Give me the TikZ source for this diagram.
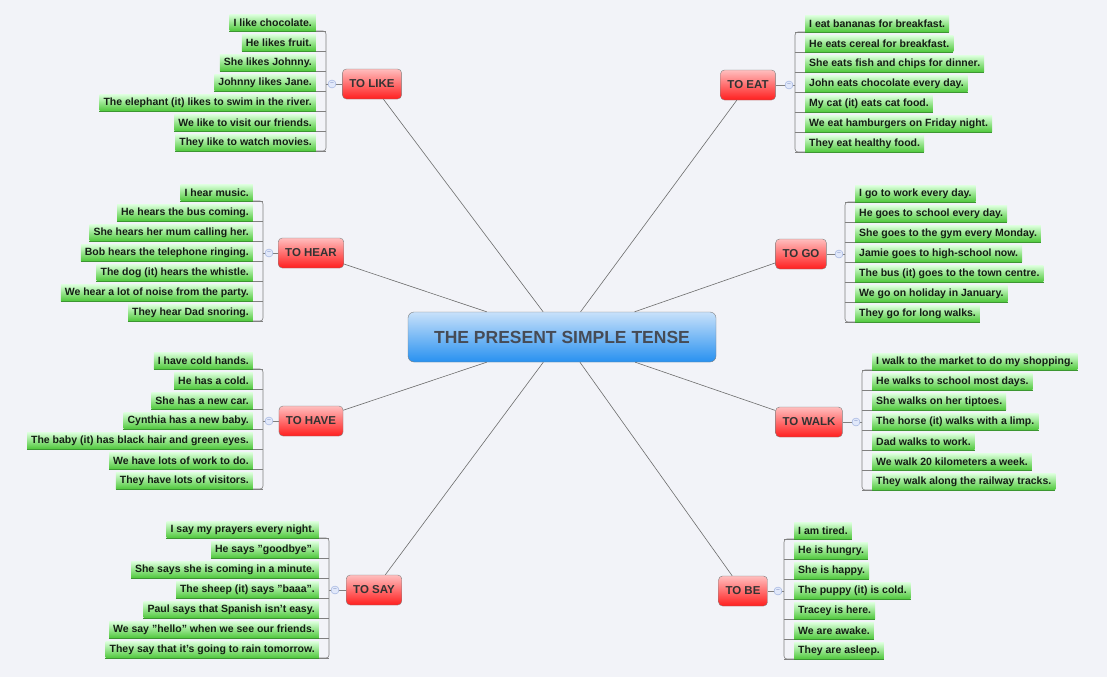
\documentclass[tikz,border=0pt]{standalone}
\usepackage{fontspec}
\setmainfont{Liberation Sans}
\definecolor{bg}{HTML}{F2F3F8}
\definecolor{txt}{HTML}{333333}
\tikzset{
 leaf/.style={top color=green!15!white, bottom color={rgb,255:red,80;green,200;blue,60}, draw=none, font=\fontsize{10.5}{12}\selectfont\bfseries, text={rgb,255:red,20;green,30;blue,20}, inner xsep=4pt, inner ysep=0pt, minimum height=16pt},
 branch/.style={rounded corners=4pt, top color={rgb,255:red,255;green,190;blue,190}, bottom color={rgb,255:red,255;green,30;blue,30}, draw=gray, font=\fontsize{11.5}{13}\selectfont\bfseries, text=txt, minimum height=30pt, inner xsep=7pt},
 central/.style={rounded corners=6pt, top color={rgb,255:red,200;green,225;blue,250}, bottom color={rgb,255:red,40;green,145;blue,240}, draw=gray, font=\fontsize{17.5}{19}\selectfont\bfseries, text={rgb,255:red,70;green,75;blue,85}, minimum width=308pt, minimum height=50pt},
 brk/.style={draw=gray, line width=0.6pt},
 uline/.style={draw={rgb,255:red,60;green,150;blue,50}, line width=0.8pt},
 edge/.style={draw=gray!85!black, line width=0.6pt},
 tog/.style={circle, draw={rgb,255:red,150;green,170;blue,220}, fill={rgb,255:red,225;green,232;blue,250}, inner sep=0pt, minimum size=8pt, font=\fontsize{6}{6}\selectfont, text={rgb,255:red,100;green,120;blue,180}}
}
\newcommand\leftgrp[7]{%
 \node[branch] (#1) at (#3,#4) {#2};
 \foreach \t [count=\i] in {#7} {
  \node[leaf, anchor=south east] (#1-\i) at (#5, {#6+8+20*(\i-1)}) {\t};
  \draw[uline] (#1-\i.south west) -- (#1-\i.south east);
  \draw[brk] (#1-\i.south east) -- ++(10,0);
 }
 \draw[brk, rounded corners=3pt] (#1-1.south east) -| (#5+10,#4) |- (#1-7.south east);
 \draw[brk] (#5+10,#4) -- (#1.west);
 \node[tog] at (#5+16,#4) {--};
 \draw[edge] (c) -- (#1);
}
\newcommand\rightgrp[7]{%
 \node[branch] (#1) at (#3,#4) {#2};
 \foreach \t [count=\i] in {#7} {
  \node[leaf, anchor=south west] (#1-\i) at (#5, {#6+8+20*(\i-1)}) {\t};
  \draw[uline] (#1-\i.south west) -- (#1-\i.south east);
  \draw[brk] (#1-\i.south west) -- ++(-10,0);
 }
 \draw[brk, rounded corners=3pt] (#1-1.south west) -| (#5-10,#4) |- (#1-7.south west);
 \draw[brk] (#5-10,#4) -- (#1.east);
 \node[tog] at (#5-16,#4) {--};
 \draw[edge] (c) -- (#1);
}
\begin{document}
\begin{tikzpicture}[x=1pt,y=-1pt]
\fill[bg] (0,0) rectangle (1107,677);
\useasboundingbox (0,0) rectangle (1107,677);
\node[central] (c) at (562,337) {THE PRESENT SIMPLE TENSE};
\leftgrp{like}{TO LIKE}{372}{84}{316}{23}{I like chocolate.,He likes fruit.,She likes Johnny.,Johnny likes Jane.,The elephant (it) likes to swim in the river.,We like to visit our friends.,They like to watch movies.}
\leftgrp{hear}{TO HEAR}{311}{253}{253}{193}{I hear music.,He hears the bus coming.,She hears her mum calling her.,Bob hears the telephone ringing.,The dog (it) hears the whistle.,We hear a lot of noise from the party.,They hear Dad snoring.}
\leftgrp{have}{TO HAVE}{311}{421}{253}{361}{I have cold hands.,He has a cold.,She has a new car.,Cynthia has a new baby.,The baby (it) has black hair and green eyes.,We have lots of work to do.,They have lots of visitors.}
\leftgrp{say}{TO SAY}{374}{590}{319}{530}{I say my prayers every night.,He says "goodbye".,She says she is coming in a minute.,The sheep (it) says "baaa".,Paul says that Spanish isn't easy.,We say "hello" when we see our friends.,They say that it's going to rain tomorrow.}
\rightgrp{eat}{TO EAT}{748}{85}{805}{24}{I eat bananas for breakfast.,He eats cereal for breakfast.,She eats fish and chips for dinner.,John eats chocolate every day.,My cat (it) eats cat food.,We eat hamburgers on Friday night.,They eat healthy food.}
\rightgrp{go}{TO GO}{801}{254}{855}{194}{I go to work every day.,He goes to school every day.,She goes to the gym every Monday.,Jamie goes to high-school now.,The bus (it) goes to the town centre.,We go on holiday in January.,They go for long walks.}
\rightgrp{walk}{TO WALK}{809}{422}{872}{362}{I walk to the market to do my shopping.,He walks to school most days.,She walks on her tiptoes.,The horse (it) walks with a limp.,Dad walks to work.,We walk 20 kilometers a week.,They walk along the railway tracks.}
\rightgrp{be}{TO BE}{743}{591}{794}{531}{I am tired.,He is hungry.,She is happy.,The puppy (it) is cold.,Tracey is here.,We are awake.,They are asleep.}
\end{tikzpicture}
\end{document}
